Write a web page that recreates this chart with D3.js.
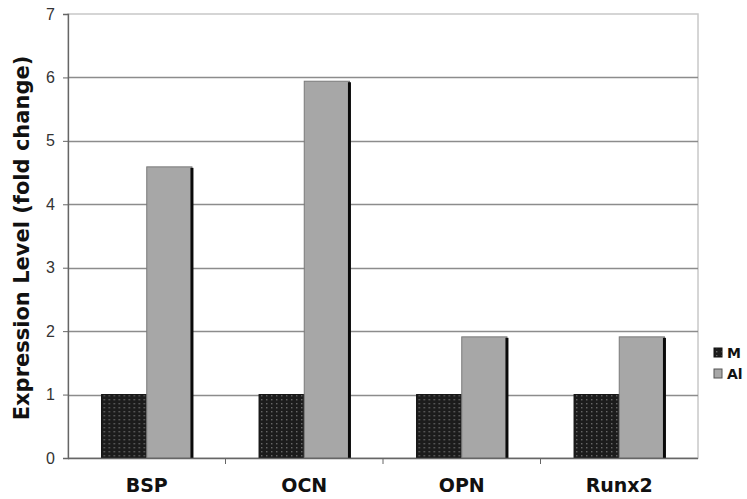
<!DOCTYPE html>
<html>
<head>
<meta charset="utf-8">
<script src="https://cdn.jsdelivr.net/npm/d3@7/dist/d3.min.js"></script>
<style>
  html, body { margin: 0; padding: 0; background: #fff; }
  svg { display: block; }
</style>
</head>
<body>
<svg id="chart" width="747" height="499"></svg>
<script>
// Gene expression fold change, M vs Al
const genes = ["BSP", "OCN", "OPN", "Runx2"];
const seriesNames = ["M", "Al"];
const valuesM = [1.0, 1.0, 1.0, 1.0];
const valuesAl = [4.59, 5.94, 1.91, 1.91];
const yTicks = [0, 1, 2, 3, 4, 5, 6, 7];

const svg = d3.select("#chart");
const margin = { left: 68, right: 49, top: 14, bottom: 41 };
const W = 747, H = 499;
const plotW = W - margin.left - margin.right;
const plotH = H - margin.top - margin.bottom;

// Dotted dark fill for the M series
const defs = svg.append("defs");
const pat = defs.append("pattern")
  .attr("id", "dots").attr("patternUnits", "userSpaceOnUse")
  .attr("width", 5).attr("height", 4);
pat.append("rect").attr("width", 5).attr("height", 4).attr("fill", "#1c1c1c");
pat.append("rect").attr("x", 2).attr("y", 1).attr("width", 1.4).attr("height", 1.4).attr("fill", "#6a6a6a");

const g = svg.append("g").attr("transform", `translate(${margin.left},${margin.top})`);

const x0 = d3.scaleBand().domain(genes).range([0, plotW]).paddingInner(0).paddingOuter(0);
const x1 = d3.scaleBand().domain(seriesNames).range([0, x0.bandwidth() * 0.574]);
const y = d3.scaleLinear().domain([0, 7]).range([plotH, 0]);

// plot frame (top / right)
g.append("rect").attr("x", 0).attr("y", 0).attr("width", plotW).attr("height", plotH)
  .attr("fill", "none").attr("stroke", "#c8c8c8").attr("stroke-width", 1.5);

// horizontal gridlines
g.append("g").selectAll("line").data(yTicks.filter(t => t > 0 && t < 7)).join("line")
  .attr("x1", 0).attr("x2", plotW)
  .attr("y1", d => Math.round(y(d)) + 0.5).attr("y2", d => Math.round(y(d)) + 0.5)
  .attr("stroke", "#8c8c8c").attr("stroke-width", 1.3);

// bars
const data = genes.map((gname, i) => ({ gene: gname, vals: [
  { s: "M", v: valuesM[i] }, { s: "Al", v: valuesAl[i] }] }));

const groupOffset = (x0.bandwidth() - x1.range()[1]) / 2;
const groups = g.append("g").selectAll("g").data(data).join("g")
  .attr("transform", d => `translate(${x0(d.gene) + groupOffset},0)`);

groups.each(function(d) {
  const sel = d3.select(this);
  d.vals.forEach(b => {
    const bx = x1(b.s), bw = x1.bandwidth();
    const top = y(b.v), h = y(0) - y(b.v);
    if (b.s === "M") {
      sel.append("rect").attr("x", bx).attr("y", top).attr("width", bw).attr("height", h)
        .attr("fill", "url(#dots)").attr("stroke", "#111").attr("stroke-width", 1);
    } else {
      sel.append("rect").attr("x", bx).attr("y", top).attr("width", bw).attr("height", h)
        .attr("fill", "#a7a7a7").attr("stroke", "#7a7a7a").attr("stroke-width", 1);
      // dark right edge
      sel.append("rect").attr("x", bx + bw - 1.5).attr("y", top + 1).attr("width", 3).attr("height", h - 1)
        .attr("fill", "#0a0a0a");
    }
  });
});

// y axis
const yAxis = g.append("g").call(d3.axisLeft(y).tickValues(yTicks).tickSize(5).tickPadding(8).tickFormat(d3.format("d")));
yAxis.select(".domain").attr("stroke", "#666").attr("stroke-width", 1.3);
yAxis.selectAll(".tick line").attr("stroke", "#666");
yAxis.selectAll("text").attr("font-family", "Liberation Sans, Arial, sans-serif")
  .attr("font-size", 16).attr("fill", "#333");

// x axis with ticks at category boundaries
const xAxisG = g.append("g").attr("transform", `translate(0,${plotH})`);
xAxisG.append("line").attr("x1", 0).attr("x2", plotW).attr("y1", 0.5).attr("y2", 0.5)
  .attr("stroke", "#666").attr("stroke-width", 1.3);
xAxisG.selectAll("line.tk").data(genes.slice(1)).join("line").attr("class", "tk")
  .attr("x1", d => x0(d)).attr("x2", d => x0(d)).attr("y1", 0).attr("y2", 6)
  .attr("stroke", "#666");
xAxisG.selectAll("text").data(genes).join("text")
  .attr("x", d => x0(d) + x0.bandwidth() / 2).attr("y", 34)
  .attr("text-anchor", "middle")
  .attr("font-family", "DejaVu Sans, Verdana, sans-serif").attr("font-weight", "bold")
  .attr("font-size", 19).attr("fill", "#111").text(d => d);

// y axis title
svg.append("text")
  .attr("transform", `translate(29,${margin.top + plotH / 2 + 2}) rotate(-90)`)
  .attr("text-anchor", "middle")
  .attr("font-family", "DejaVu Sans, Verdana, sans-serif").attr("font-weight", "bold")
  .attr("font-size", 21).attr("fill", "#111")
  .text("Expression Level (fold change)");

// legend
const legend = svg.append("g").attr("transform", "translate(714,346)");
seriesNames.forEach((s, i) => {
  const row = legend.append("g").attr("transform", `translate(0,${i * 21})`);
  row.append("rect").attr("x", 0).attr("y", 2).attr("width", 8).attr("height", 9)
    .attr("fill", s === "M" ? "url(#dots)" : "#a7a7a7")
    .attr("stroke", s === "M" ? "#111" : "#555").attr("stroke-width", 1);
  row.append("text").attr("x", 13).attr("y", 12)
    .attr("font-family", "DejaVu Sans, Verdana, sans-serif").attr("font-weight", "bold")
    .attr("font-size", 14).attr("fill", "#111").text(s);
});
</script>
</body>
</html>
